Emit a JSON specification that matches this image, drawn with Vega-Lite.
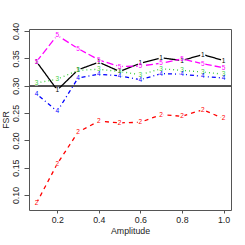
{
  "$schema": "https://vega.github.io/schema/vega-lite/v6.json",
  "width": 202,
  "height": 181,
  "autosize": {"type": "none"},
  "padding": {"left": 29, "top": 29, "right": 14, "bottom": 35},
  "background": "white",
  "config": {
    "font": "Liberation Sans",
    "view": {"stroke": "#555555", "strokeWidth": 1},
    "axis": {"grid": false, "domain": false, "tickColor": "#555555", "labelColor": "#222222", "titleColor": "#222222", "labelFont": "Liberation Sans", "titleFont": "Liberation Sans", "labelFontSize": 8.8, "titleFontSize": 8.8, "titleFontWeight": "normal"}
  },
  "data": {"values": [
    {"amp": 0.1, "s": "1", "fsr": 0.344}, {"amp": 0.2, "s": "1", "fsr": 0.292}, {"amp": 0.3, "s": "1", "fsr": 0.329}, {"amp": 0.4, "s": "1", "fsr": 0.343}, {"amp": 0.5, "s": "1", "fsr": 0.326}, {"amp": 0.6, "s": "1", "fsr": 0.341}, {"amp": 0.7, "s": "1", "fsr": 0.351}, {"amp": 0.8, "s": "1", "fsr": 0.346}, {"amp": 0.9, "s": "1", "fsr": 0.357}, {"amp": 1.0, "s": "1", "fsr": 0.346},
    {"amp": 0.1, "s": "2", "fsr": 0.085}, {"amp": 0.2, "s": "2", "fsr": 0.157}, {"amp": 0.3, "s": "2", "fsr": 0.215}, {"amp": 0.4, "s": "2", "fsr": 0.235}, {"amp": 0.5, "s": "2", "fsr": 0.232}, {"amp": 0.6, "s": "2", "fsr": 0.233}, {"amp": 0.7, "s": "2", "fsr": 0.247}, {"amp": 0.8, "s": "2", "fsr": 0.244}, {"amp": 0.9, "s": "2", "fsr": 0.256}, {"amp": 1.0, "s": "2", "fsr": 0.240},
    {"amp": 0.1, "s": "3", "fsr": 0.305}, {"amp": 0.2, "s": "3", "fsr": 0.312}, {"amp": 0.3, "s": "3", "fsr": 0.328}, {"amp": 0.4, "s": "3", "fsr": 0.330}, {"amp": 0.5, "s": "3", "fsr": 0.326}, {"amp": 0.6, "s": "3", "fsr": 0.320}, {"amp": 0.7, "s": "3", "fsr": 0.331}, {"amp": 0.8, "s": "3", "fsr": 0.328}, {"amp": 0.9, "s": "3", "fsr": 0.325}, {"amp": 1.0, "s": "3", "fsr": 0.321},
    {"amp": 0.1, "s": "4", "fsr": 0.285}, {"amp": 0.2, "s": "4", "fsr": 0.253}, {"amp": 0.3, "s": "4", "fsr": 0.314}, {"amp": 0.4, "s": "4", "fsr": 0.321}, {"amp": 0.5, "s": "4", "fsr": 0.318}, {"amp": 0.6, "s": "4", "fsr": 0.311}, {"amp": 0.7, "s": "4", "fsr": 0.322}, {"amp": 0.8, "s": "4", "fsr": 0.321}, {"amp": 0.9, "s": "4", "fsr": 0.317}, {"amp": 1.0, "s": "4", "fsr": 0.314},
    {"amp": 0.1, "s": "5", "fsr": 0.344}, {"amp": 0.2, "s": "5", "fsr": 0.392}, {"amp": 0.3, "s": "5", "fsr": 0.368}, {"amp": 0.4, "s": "5", "fsr": 0.347}, {"amp": 0.5, "s": "5", "fsr": 0.335}, {"amp": 0.6, "s": "5", "fsr": 0.336}, {"amp": 0.7, "s": "5", "fsr": 0.341}, {"amp": 0.8, "s": "5", "fsr": 0.349}, {"amp": 0.9, "s": "5", "fsr": 0.340}, {"amp": 1.0, "s": "5", "fsr": 0.333}
  ]},
  "encoding": {
    "x": {"field": "amp", "type": "quantitative", "scale": {"domain": [0.064, 1.036], "nice": false, "zero": false},
      "axis": {"title": "Amplitude", "values": [0.2, 0.4, 0.6, 0.8, 1.0], "format": ".1f", "tickSize": 3, "labelPadding": 2.5, "titlePadding": 2}},
    "y": {"field": "fsr", "type": "quantitative", "scale": {"domain": [0.0725, 0.4037], "nice": false, "zero": false},
      "axis": {"title": "FSR", "values": [0.1, 0.15, 0.2, 0.25, 0.3, 0.35, 0.4], "format": ".2f", "tickSize": 5, "labelAngle": -90, "labelAlign": "center", "labelBaseline": "bottom", "labelPadding": 4, "titlePadding": 1}}
  },
  "layer": [
    {"mark": {"type": "rule", "color": "#555555", "strokeWidth": 0.8}, "encoding": {"y": {"datum": 0.3}, "x": {"value": 0}, "x2": {"value": 202}}},
    {"mark": {"type": "line", "strokeWidth": 1.3},
      "encoding": {
        "color": {"field": "s", "type": "nominal", "legend": null, "scale": {"domain": ["1", "2", "3", "4", "5"], "range": ["#000000", "#FF0000", "#3FD03F", "#0000FF", "#FF00FF"]}},
        "strokeDash": {"field": "s", "type": "nominal", "legend": null, "scale": {"domain": ["1", "2", "3", "4", "5"], "range": [[1, 0], [4, 4], [1, 3], [1, 3, 4, 3], [7, 3]]}}
      }},
    {"mark": {"type": "point", "filled": true, "color": "white", "opacity": 1, "size": 28, "shape": "circle"}},
    {"mark": {"type": "text", "fontSize": 6.5, "font": "Liberation Sans", "baseline": "middle", "align": "center"},
      "encoding": {
        "text": {"field": "s"},
        "color": {"field": "s", "type": "nominal", "legend": null, "scale": {"domain": ["1", "2", "3", "4", "5"], "range": ["#000000", "#FF0000", "#3FD03F", "#0000FF", "#FF00FF"]}}
      }}
  ]
}
